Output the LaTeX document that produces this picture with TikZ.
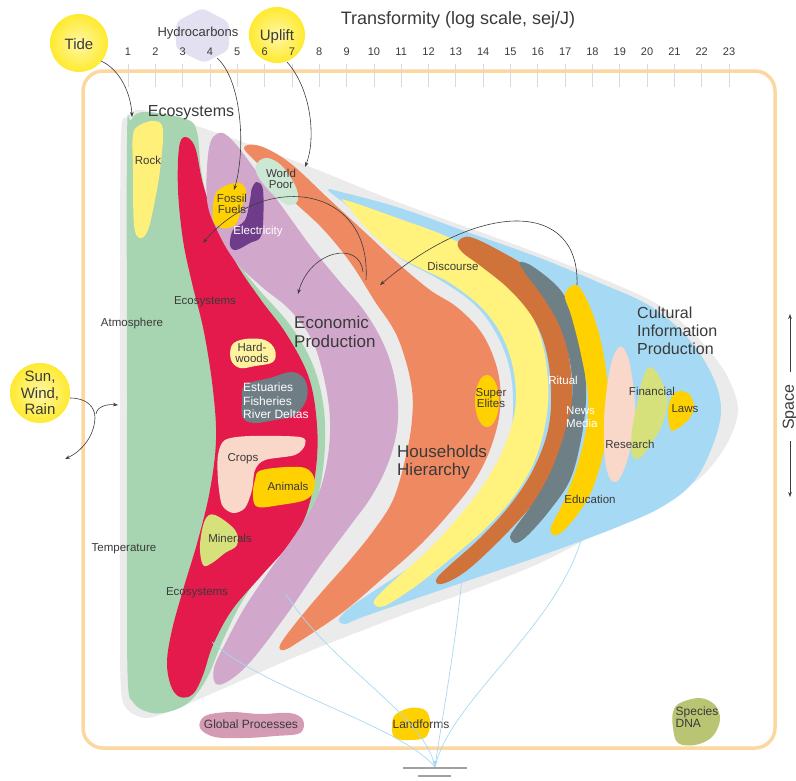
\documentclass[tikz,border=0pt]{standalone}
\usepackage{fontspec}
\setmainfont{Liberation Sans}
\usetikzlibrary{arrows.meta}

\definecolor{txt}{HTML}{3A3A3A}
\definecolor{arr}{HTML}{3C3C3C}
\definecolor{envgrey}{HTML}{EBEBEB}
\definecolor{ecogreen}{HTML}{A7D5B1}
\definecolor{ecored}{HTML}{E31A4B}
\definecolor{econpurple}{HTML}{D1A7CB}
\definecolor{houseorange}{HTML}{EF8962}
\definecolor{cultblue}{HTML}{A6DAF4}
\definecolor{discyellow}{HTML}{FFF27D}
\definecolor{ritualbrown}{HTML}{D0733A}
\definecolor{mediaslate}{HTML}{6F7F86}
\definecolor{gold}{HTML}{FFD100}
\definecolor{paleping}{HTML}{F9D8C9}
\definecolor{limegreen}{HTML}{D7E17C}
\definecolor{poorgreen}{HTML}{CCE7D3}
\definecolor{elecpurple}{HTML}{6E3C8A}
\definecolor{rockyellow}{HTML}{FFF07A}
\definecolor{woodyellow}{HTML}{FFF3A0}
\definecolor{estuslate}{HTML}{6F7D85}
\definecolor{globalmauve}{HTML}{D39BB4}
\definecolor{dnaolive}{HTML}{BAC573}
\definecolor{framecol}{HTML}{FDD7A0}
\definecolor{tickcol}{HTML}{DADADA}
\definecolor{hexcol}{HTML}{E3E1F1}
\definecolor{sunin}{HTML}{FFF7A8}
\definecolor{sunout}{HTML}{FFEA2E}
\definecolor{feedblue}{HTML}{A9D9F0}
\definecolor{groundgrey}{HTML}{A0A0A0}

\begin{document}
\begin{tikzpicture}[x=1pt,y=-1pt,
  lbl/.style={text=txt, font=\fontsize{11.5}{12.5}\selectfont, inner sep=0pt, align=center},
  wlbl/.style={lbl, text=white},
  big/.style={text=txt, font=\fontsize{17}{18.5}\selectfont, inner sep=0pt, align=left, anchor=west},
  src/.style={text=txt, font=\fontsize{15}{17}\selectfont, inner sep=0pt, align=center},
  flow/.style={draw=arr, line width=0.6pt, -{Stealth[length=5pt,width=3.6pt]}},
  feed/.style={draw=feedblue, line width=0.7pt},
  blob/.style={smooth cycle, tension=0.6}]
\useasboundingbox (0,0) rectangle (796,780);

% ---------- source shapes (behind the axis labels) ----------
\shade[inner color=sunin, outer color=sunout] (79,43) circle (29);
\shade[inner color=sunin, outer color=sunout] (277,35) circle (28);
\fill[hexcol, rounded corners=5pt] (202,8) -- (229,22) -- (229,50) -- (204,63) -- (176,49) -- (176,22) -- cycle;
\shade[inner color=sunin, outer color=sunout] (40,393) circle (30);

% ---------- frame ----------
\draw[framecol, line width=3.5pt, rounded corners=20pt] (83,71) rectangle (775,748);

% ---------- transformity axis ----------
\node[text=txt, font=\fontsize{18}{20}\selectfont, inner sep=0pt] (axistitle) at (458,20) {Transformity (log scale, sej/J)};
\foreach \n in {1,...,23}{
  \pgfmathsetmacro{\xx}{128+(\n-1)*27.32}
  \draw[tickcol, line width=0.7pt] (\xx,64) -- (\xx,87);
  \node[text=txt, font=\fontsize{11}{12}\selectfont, inner sep=0pt] (tick\n) at (\xx,52) {\n};
}

% ---------- source labels ----------
\node[src] (tide) at (79,44) {Tide};
\node[text=txt, font=\fontsize{13}{14}\selectfont, inner sep=0pt] (hydro) at (198,33) {Hydrocarbons};
\node[src] (uplift) at (277,37) {Uplift};
\node[src, font=\fontsize{15}{16.5}\selectfont] (sun) at (40,393) {Sun,\\Wind,\\Rain};

% ---------- envelope ----------
\fill[envgrey] plot[blob, tension=0.5] coordinates {(121,135) (127,117) (142,110) (197,126) (300,163) (400,203) (540,254) (650,300) (695,335) (725,372) (738,408) (728,442) (700,478) (650,508) (600,532) (540,563) (467,592) (400,616) (300,655) (220,690) (168,712) (145,718) (128,710) (121,690) (120,600) (120,300)};

% ---------- ecosystems ----------
\fill[ecogreen] plot[blob] coordinates {(127,140) (131,120) (145,112) (186,119) (197,132) (201,170) (210,210) (225,245) (255,285) (290,325) (313,365) (324,410) (324,460) (315,505) (295,535) (268,565) (243,600) (223,640) (207,678) (188,703) (163,713) (145,711) (133,702) (128,685) (127,600) (127,400)};
\fill[ecored] plot[blob] coordinates {(185,137) (179,148) (178,190) (183,240) (192,283) (204,332) (213,390) (216,440) (210,490) (198,540) (183,590) (172,630) (167,662) (171,686) (180,697) (193,694) (203,675) (213,645) (232,610) (262,575) (290,543) (307,512) (316,468) (317,425) (309,378) (287,335) (261,300) (236,263) (216,222) (203,184) (195,147)};

% ---------- economic production ----------
\fill[econpurple] plot[blob] coordinates {(219,133) (209,148) (207,200) (218,232) (236,262) (262,287) (290,310) (312,340) (324,378) (330,420) (327,462) (316,500) (295,535) (270,570) (245,607) (226,642) (214,668) (216,684) (230,680) (252,660) (287,614) (320,566) (350,526) (373,494) (390,458) (398,420) (395,380) (384,345) (365,312) (340,282) (312,248) (283,208) (254,168) (232,140)};

% ---------- households ----------
\fill[houseorange] plot[blob] coordinates {(244,148) (262,168) (290,198) (322,228) (350,262) (374,300) (397,336) (411,383) (412,420) (405,460) (393,500) (374,530) (350,560) (320,594) (295,624) (280,645) (284,650) (300,641) (343,612) (383,578) (420,545) (452,510) (475,480) (491,447) (500,410) (498,372) (483,335) (458,308) (430,290) (400,265) (370,237) (330,200) (290,163) (260,146)};

% ---------- cultural information ----------
\fill[cultblue] plot[blob] coordinates {(328,190) (345,193) (400,208) (470,233) (540,258) (600,283) (650,306) (688,338) (712,375) (721,408) (714,442) (695,480) (665,505) (620,526) (540,556) (467,581) (400,604) (360,618) (345,624) (339,619) (352,606) (380,587) (420,560) (460,525) (490,490) (508,450) (513,410) (510,370) (497,335) (475,305) (440,280) (400,258) (375,235) (350,208)};
\fill[discyellow] plot[blob] coordinates {(345,200) (400,219) (450,238) (490,262) (520,295) (540,335) (548,380) (546,420) (535,460) (515,495) (487,527) (455,555) (420,583) (392,602) (380,607) (374,601) (390,584) (425,553) (456,520) (482,487) (503,450) (515,410) (514,373) (503,338) (482,308) (450,283) (420,268) (395,254) (368,230) (348,206)};
\fill[ritualbrown] plot[blob] coordinates {(458,242) (470,237) (500,251) (530,270) (553,300) (566,340) (572,390) (568,440) (555,478) (528,510) (500,540) (470,568) (450,581) (438,584) (437,578) (450,565) (480,538) (510,505) (533,470) (548,430) (551,390) (546,350) (533,318) (510,290) (482,267) (462,252)};
\fill[mediaslate] plot[blob] coordinates {(520,262) (535,268) (562,292) (576,325) (584,365) (586,400) (581,440) (570,480) (550,510) (528,535) (516,543) (510,537) (515,528) (533,503) (550,473) (563,438) (572,400) (570,362) (560,327) (543,297) (525,273)};
\fill[gold] plot[blob] coordinates {(567,290) (576,285) (586,298) (598,330) (606,370) (609,410) (604,450) (592,490) (577,515) (562,532) (553,535) (551,527) (562,505) (576,470) (586,430) (588,395) (580,350) (571,315) (565,298)};
\fill[paleping] plot[blob] coordinates {(622,347) (630,365) (635,410) (630,450) (620,478) (611,480) (605,460) (604,420) (608,380) (614,355)};
\fill[limegreen] plot[blob] coordinates {(650,367) (660,378) (667,400) (662,425) (650,445) (640,458) (632,455) (632,430) (638,400) (643,378)};
\fill[gold] plot[blob] coordinates {(680,391) (690,395) (694,408) (688,420) (675,430) (670,428) (668,410) (672,396)};

% ---------- stores inside the bands ----------
\fill[rockyellow] plot[blob] coordinates {(140,125) (155,121) (163,130) (160,170) (155,200) (148,230) (140,238) (134,225) (133,170) (133,135)};
\fill[poorgreen] plot[blob] coordinates {(258,162) (268,158) (282,166) (295,185) (298,200) (290,205) (279,200) (265,186) (256,172)};
\fill[gold] plot[blob] coordinates {(215,195) (225,186) (240,183) (246,192) (241,210) (235,225) (222,228) (213,220)};
\fill[elecpurple] plot[blob] coordinates {(257,182) (263,190) (263,225) (260,238) (250,243) (236,250) (230,245) (233,230) (245,220) (250,200) (252,188)};
\fill[woodyellow] plot[blob] coordinates {(232,345) (245,339) (265,340) (275,350) (273,362) (255,366) (240,368) (231,360)};
\fill[estuslate] plot[blob] coordinates {(245,385) (270,378) (292,372) (305,380) (307,398) (295,415) (275,420) (255,423) (243,418) (242,400)};
\fill[paleping] plot[blob, tension=0.5] coordinates {(225,440) (250,436) (300,437) (305,445) (295,455) (265,460) (255,470) (252,490) (245,508) (233,513) (222,505) (218,480) (218,455)};
\fill[gold] plot[blob] coordinates {(262,470) (300,467) (313,475) (314,490) (305,500) (280,505) (258,507) (253,497) (255,480)};
\fill[limegreen] plot[blob] coordinates {(205,520) (215,515) (235,530) (237,545) (225,553) (212,563) (203,565) (200,545)};
\fill[gold] (487,401) ellipse (12 and 26);

% ---------- bottom stores ----------
\fill[globalmauve] plot[blob] coordinates {(205,716) (230,712) (260,714) (290,713) (303,720) (300,733) (275,736) (245,738) (215,737) (200,728)};
\fill[gold] plot[blob] coordinates {(395,715) (410,708) (425,710) (430,722) (426,737) (410,740) (395,738) (392,727)};
\fill[dnaolive] plot[blob] coordinates {(680,703) (700,698) (715,705) (720,720) (712,737) (695,745) (678,743) (673,728) (673,712)};

% ---------- labels ----------
\node[text=txt, font=\fontsize{16}{18}\selectfont, inner sep=0pt] (ecotop) at (191,113) {Ecosystems};
\node[lbl] (rock) at (148,160) {Rock};
\node[lbl] (atmos) at (132,324) {Atmosphere};
\node[lbl] (ecomid) at (205,302) {Ecosystems};
\node[lbl] (temp) at (124,549) {Temperature};
\node[lbl] (ecolow) at (197,593) {Ecosystems};
\node[lbl] (minerals) at (230,538) {Minerals};
\node[lbl, font=\fontsize{11.5}{11}\selectfont] (hardwoods) at (252,353) {Hard-\\woods};
\node[wlbl, anchor=west, align=left, font=\fontsize{12}{13.5}\selectfont] (estuaries) at (243,401) {Estuaries\\Fisheries\\River Deltas};
\node[lbl] (crops) at (243,459) {Crops};
\node[lbl] (animals) at (288,486) {Animals};
\node[lbl, font=\fontsize{11.5}{11}\selectfont] (fossil) at (232,204) {Fossil\\Fuels};
\node[wlbl] (electricity) at (258,232) {Electricity};
\node[lbl, font=\fontsize{11.5}{11.5}\selectfont] (worldpoor) at (281,179) {World\\Poor};
\node[big] (econ) at (294,332) {Economic\\Production};
\node[big] (house) at (397,462) {Households\\Hierarchy};
\node[lbl] (discourse) at (453,266) {Discourse};
\node[lbl, font=\fontsize{11.5}{11.5}\selectfont] (elites) at (491,398) {Super\\Elites};
\node[wlbl] (ritual) at (563,380) {Ritual};
\node[wlbl, anchor=west, align=left, font=\fontsize{11.5}{13}\selectfont] (media) at (566,417) {News\\Media};
\node[lbl] (education) at (590,499) {Education};
\node[lbl] (research) at (630,444) {Research};
\node[lbl] (financial) at (652,391) {Financial};
\node[lbl] (laws) at (685,409) {Laws};
\node[big, font=\fontsize{16}{18}\selectfont] (cultural) at (637,331) {Cultural\\Information\\Production};
\node[lbl, font=\fontsize{12}{13}\selectfont] (global) at (251,724) {Global Processes};
\node[lbl, font=\fontsize{12}{13}\selectfont] (landforms) at (421,724) {Landforms};
\node[lbl, font=\fontsize{12}{12}\selectfont, align=left] (dna) at (697,717) {Species\\DNA};

% ---------- space axis ----------
\node[text=txt, font=\fontsize{16}{18}\selectfont, inner sep=0pt, rotate=90] (space) at (790,407) {Space};
\coordinate (spUp) at (790,314);
\coordinate (spDown) at (790,497);
\draw[flow] (790,372) -- (spUp);
\draw[flow] (790,441) -- (spDown);

% ---------- inflows ----------
\coordinate (tideOut) at (101,61);
\coordinate (tideIn) at (132,117);
\draw[flow] (tideOut) .. controls (121,70) and (131,95) .. (tideIn);
\coordinate (hydroOut) at (217,58);
\coordinate (hydroIn) at (234,190);
\draw[flow] (hydroOut) .. controls (242,80) and (246,150) .. (hydroIn);
\coordinate (upOut) at (287,62);
\coordinate (upIn) at (305,167);
\draw[flow] (upOut) .. controls (312,90) and (316,140) .. (upIn);
\coordinate (sunOut) at (70,398);
\coordinate (sunFork) at (95,418);
\coordinate (sunIn) at (118,405);
\coordinate (sunLoss) at (65,459);
\draw[draw=arr, line width=0.6pt] (sunOut) .. controls (86,398) and (95,406) .. (sunFork);
\draw[flow] (sunFork) .. controls (94,438) and (80,452) .. (sunLoss);
\draw[flow] (96,414) .. controls (97,406) and (108,404) .. (sunIn);

% ---------- feedbacks ----------
\coordinate (fbA) at (366,280);
\coordinate (fbAend) at (203,243);
\draw[flow] (fbA) .. controls (372,185) and (265,170) .. (fbAend);
\coordinate (fbB) at (363,272);
\coordinate (fbBend) at (298,294);
\draw[flow] (fbB) .. controls (360,240) and (310,250) .. (fbBend);
\coordinate (fbC) at (577,285);
\coordinate (fbCend) at (380,285);
\draw[flow] (fbC) .. controls (580,200) and (480,200) .. (fbCend);

% ---------- dispersal to the heat sink ----------
\coordinate (sink) at (435,767);
\coordinate (dA) at (212,642);
\coordinate (dB) at (286,594);
\coordinate (dC) at (462,578);
\coordinate (dD) at (583,533);
\draw[feed] (dA) .. controls (265,690) and (400,725) .. (sink);
\draw[feed] (dB) .. controls (330,665) and (425,715) .. (sink);
\draw[feed] (dC) .. controls (455,650) and (440,730) .. (sink);
\draw[feed] (dD) .. controls (560,625) and (450,700) .. (sink);
\fill[feedblue] (sink) -- ++(-2.5,-6) -- ++(5,0) -- cycle;
\draw[groundgrey, line width=1.3pt] (403,768) -- (467,768);
\draw[groundgrey, line width=1.3pt] (418,776) -- (451,776);
\end{tikzpicture}
\end{document}
